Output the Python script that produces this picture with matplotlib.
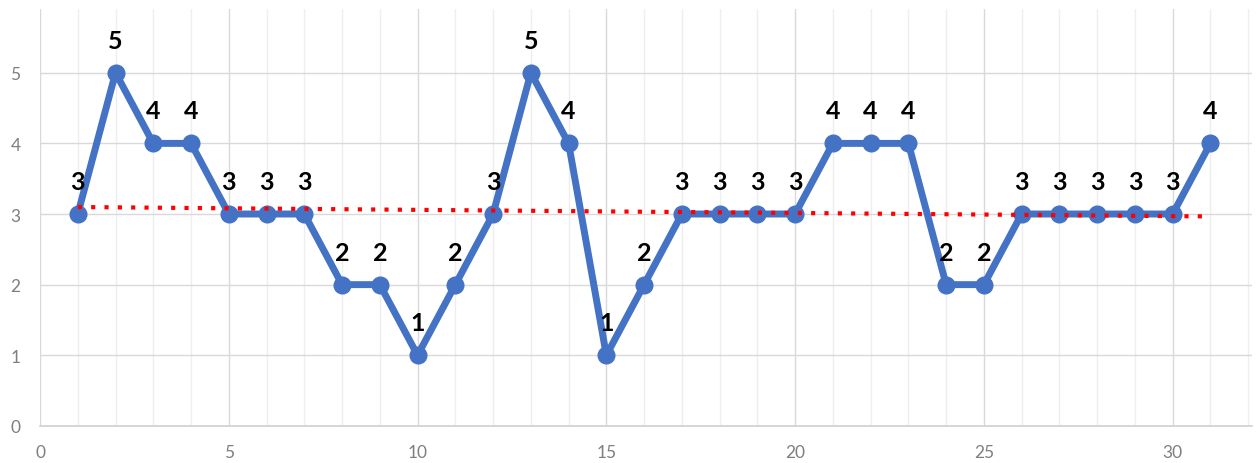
import matplotlib.pyplot as plt
import numpy as np
from matplotlib.ticker import MultipleLocator

days = list(range(1, 32))
scores = [3, 5, 4, 4, 3, 3, 3, 2, 2, 1,
          2, 3, 5, 4, 1, 2, 3, 3, 3, 3,
          4, 4, 4, 2, 2, 3, 3, 3, 3, 3, 4]

plt.rcParams['font.family'] = ['Lato', 'DejaVu Sans']

fig = plt.figure(figsize=(12.59, 4.64), dpi=100)
ax = fig.add_axes([0.0318, 0.080, 0.9626, 0.898])

ax.plot(days, scores, color='#4472C4', lw=5, marker='o', ms=12,
        solid_joinstyle='round', zorder=3)

# linear trend
k, b = np.polyfit(days, scores, 1)
tx = np.array([days[0], days[-1]])
ax.plot(tx, k * tx + b, color='#FF0000', lw=3, ls=(0, (1, 2.2)), zorder=4)

for d, s in zip(days, scores):
    ax.annotate(str(s), (d, s), xytext=(0, 18), textcoords='offset points',
                ha='center', va='baseline', fontsize=18, fontweight='bold',
                color='black', zorder=5)

ax.set_xlim(0, 32.1)
ax.set_ylim(0, 5.9)
ax.xaxis.set_major_locator(MultipleLocator(5))
ax.xaxis.set_minor_locator(MultipleLocator(1))
ax.yaxis.set_major_locator(MultipleLocator(1))

ax.grid(which='major', axis='both', color='#D9D9D9', lw=1)
ax.grid(which='minor', axis='x', color='#EEEEEE', lw=1)
ax.set_axisbelow(True)

for side in ['top', 'right', 'left']:
    ax.spines[side].set_visible(False)
ax.spines['bottom'].set_color('#D0D0D0')
ax.spines['bottom'].set_linewidth(1.2)

ax.tick_params(which='both', length=0)
ax.tick_params(axis='x', pad=13, labelsize=12.5, labelcolor='#7F7F7F')
ax.tick_params(axis='y', pad=14, labelsize=12.5, labelcolor='#7F7F7F')

fig.savefig('out.png')
